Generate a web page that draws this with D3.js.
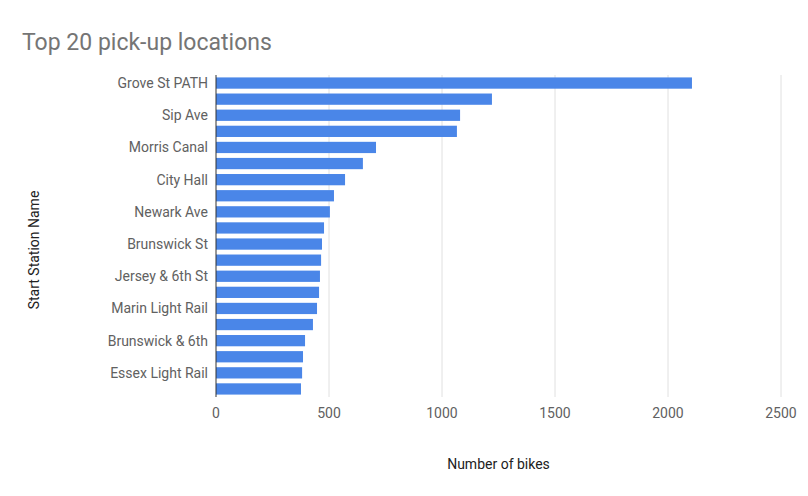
<!DOCTYPE html>
<html><head><meta charset="utf-8">
<script src="https://cdn.jsdelivr.net/npm/d3@7"></script>
<style>body{margin:0;background:#fff;font-family:Roboto,Arial,sans-serif}</style>
</head><body>
<svg id="chart" width="808" height="496"></svg>
<script>
const stations = ['Grove St PATH','Exchange Place','Sip Ave','Hamilton Park','Morris Canal','McGinley Square',
  'City Hall','Paulus Hook','Newark Ave','Van Vorst Park','Brunswick St','Columbus Drive','Jersey & 6th St',
  'Harborside','Marin Light Rail','Liberty Light Rail','Brunswick & 6th','Christ Hospital','Essex Light Rail','JC Medical Center']
const bikes = [2106,1221,1080,1066,708,650,571,522,504,478,469,465,460,456,447,429,394,385,381,376]
const xTicks = [0,500,1000,1500,2000,2500]

const svg = d3.select('#chart')
const m = {left:216, right:781, top:75, bottom:397}

const x = d3.scaleLinear().domain([0,2500]).range([m.left,m.right])
const y = d3.scaleBand().domain(stations).range([m.top,m.bottom]).paddingInner(0.3).paddingOuter(0.15)

svg.append('text').attr('x',22).attr('y',50).attr('font-size',23).attr('fill','#757575').text('Top 20 pick-up locations')

// grid
svg.append('g').selectAll('line').data(xTicks.slice(1)).join('line')
  .attr('x1',d=>x(d)).attr('x2',d=>x(d)).attr('y1',m.top).attr('y2',m.bottom)
  .attr('stroke','#e0e0e0')

svg.append('g').selectAll('rect').data(stations).join('rect')
  .attr('x',x(0)).attr('y',d=>y(d)).attr('height',y.bandwidth())
  .attr('width',(d,i)=>x(bikes[i])-x(0)).attr('fill','#4a86e8')

svg.append('line').attr('x1',x(0)).attr('x2',x(0)).attr('y1',m.top).attr('y2',m.bottom).attr('stroke','#333')

svg.append('g').selectAll('text').data(xTicks).join('text')
  .attr('x',d=>x(d)).attr('y',418).attr('text-anchor','middle')
  .attr('font-size',14).attr('fill','#616161').text(d=>d)

svg.append('g').selectAll('text').data(stations.filter((d,i)=>i%2===0)).join('text')
  .attr('x',m.left-8).attr('y',d=>y(d)+y.bandwidth()/2).attr('dy','0.35em').attr('text-anchor','end')
  .attr('font-size',14).attr('fill','#616161').text(d=>d)

svg.append('text').attr('x',(m.left+m.right)/2).attr('y',469).attr('text-anchor','middle')
  .attr('font-size',14).attr('fill','#212121').text('Number of bikes')
svg.append('text').attr('transform','translate(39,250) rotate(-90)').attr('text-anchor','middle')
  .attr('font-size',14).attr('fill','#212121').text('Start Station Name')
</script>
</body></html>
